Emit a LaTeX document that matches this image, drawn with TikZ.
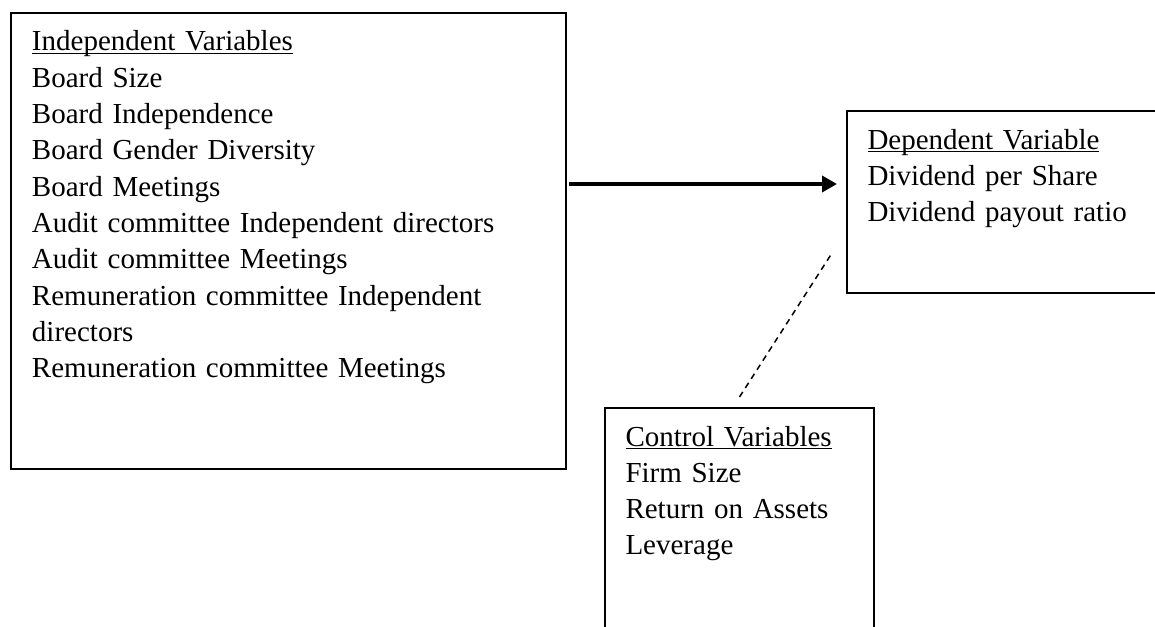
\documentclass[tikz,border=0pt]{standalone}
\usepackage{fontspec}
\setmainfont{Liberation Serif}
\usepackage{tikz}
\usetikzlibrary{positioning, arrows.meta}

% underlined heading, rule close under the baseline
\newcommand{\headline}[1]{\setbox0\hbox{#1}\rlap{\rule[-1.6pt]{\wd0}{0.7pt}}\box0}

\begin{document}
\begin{tikzpicture}[
                x=0.5pt, y=-0.5pt,
                varbox/.style={
                  draw, line width=1pt, anchor=north west,
                  align=left, inner xsep=10.25pt, inner ysep=0pt,
                  text height=19pt,
                  font=\fontsize{14.5pt}{18.15pt}\selectfont
                },
                arrow/.style={draw, line width=1.8pt, -{Triangle[length=7.5pt, width=8pt]}},
                link/.style={draw, line width=0.75pt, dash pattern=on 3pt off 2.4pt}
              ]
              \useasboundingbox (0,0) rectangle (1155,626);

              \node (indep) [varbox, text width=256.5pt, minimum width=277.5pt, text depth=209pt] at (10,12)
                { \headline{Independent Variables}\\ Board Size\\ Board Independence\\
                  Board Gender Diversity\\ Board Meetings\\ Audit committee Independent directors\\
                  Audit committee Meetings\\ Remuneration committee Independent\\ directors\\
                  Remuneration committee Meetings };
              \node (dep) [varbox, text width=136.5pt, minimum width=157pt, text depth=72pt] at (846,110)
                { \headline{Dependent Variable}\\ Dividend per Share\\ Dividend payout ratio };
              \node (ctrl) [varbox, text width=114pt, minimum width=134.5pt, text depth=97.5pt] at (604,407)
                { \headline{Control Variables}\\ Firm Size\\ Return on Assets\\ Leverage };

              % Draw links
              \draw[arrow] ([xshift=1pt, yshift=28.5pt]indep.east) -- ([xshift=-4.5pt, yshift=9pt]dep.west);
              \draw[link] ([yshift=5pt]ctrl.north) -- ([xshift=-7pt, yshift=20.5pt]dep.south west);

            \end{tikzpicture}
\end{document}
